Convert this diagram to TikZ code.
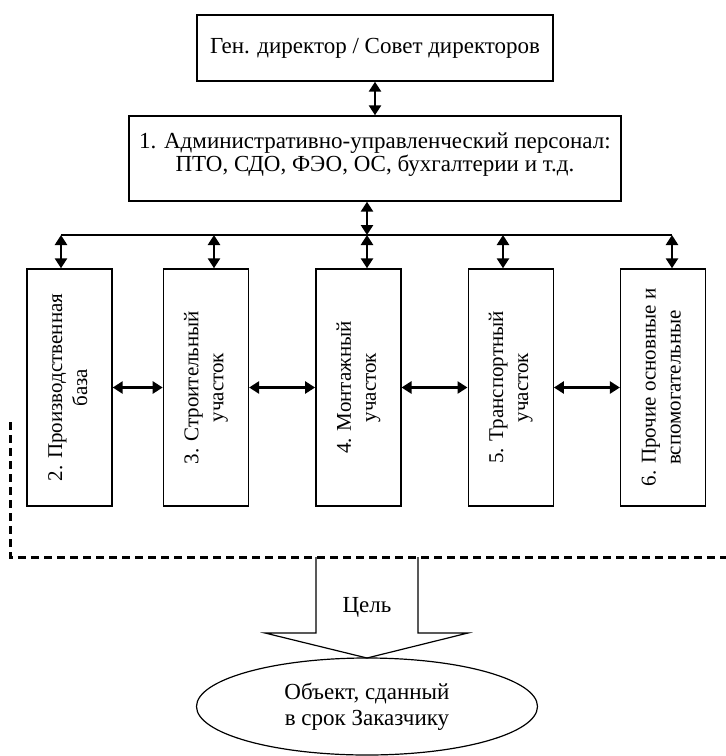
\documentclass[tikz,border=0pt]{standalone}
\usepackage{fontspec}
\setmainfont{Liberation Serif}
\usetikzlibrary{positioning,arrows.meta,shapes.geometric}

\tikzset{
  box/.style={draw, line width=0.7pt, align=center, inner sep=1pt},
  unit/.style={box, minimum width=42.5pt, minimum height=118.5pt},
  link/.style={{Triangle[length=5pt,width=6pt]}-{Triangle[length=5pt,width=6pt]}, line width=1.3pt},
  bus/.style={line width=0.6pt},
  border/.style={line width=1.5pt, dash pattern=on 4pt off 2.5pt},
}
\newcommand{\vtext}[1]{\rotatebox{90}{\fontsize{10.5}{12.5}\selectfont\begin{tabular}{@{}c@{}}#1\end{tabular}}}

\begin{document}
\begin{tikzpicture}[x=0.5pt, y=-0.5pt, font=\fontsize{11.5}{13}\selectfont]
    \useasboundingbox (0,0) rectangle (726,756);
    \node [box, minimum width=178pt, minimum height=33pt] (gen) at (375,48)
      {Ген. директор / Совет директоров};
    \node [box, minimum width=246pt, minimum height=42.5pt] (aup) at (375,158.5)
      {1. Административно-управленческий персонал:\\[-1.5pt] ПТО, СДО, ФЭО, ОС, бухгалтерии и т.д.\\[-11pt] \strut};
    \node [unit] (base) at (69.5,387.5) {\vtext{2. Производственная\\ база}};
    \node [unit, right=25pt of base] (build) {\vtext{3. Строительный\\ участок}};
    \node [unit, right=33pt of build] (mount) {\vtext{4. Монтажный\\ участок}};
    \node [unit, right=33pt of mount] (trans) {\vtext{5. Транспортный\\ участок}};
    \node [unit, right=33pt of trans] (other) {\vtext{6. Прочие основные и\\ вспомогательные}};

    \coordinate (hub) at (367,235);
    \coordinate (busl) at (61,235);
    \coordinate (busr) at (672,235);
    \draw [bus] (busl) -- (busr);
    \draw [link] (gen.south) -- (aup.north);
    \draw [link] (hub |- aup.south) -- (hub);
    \foreach \x/\u in {61/base, 214/build, 367/mount, 503/trans, 672/other}
      \draw [link] (\x,235) -- (\x,235 |- \u.north);
    \draw [link] (base) -- (build);
    \draw [link] (build) -- (mount);
    \draw [link] (mount) -- (trans);
    \draw [link] (trans) -- (other);

    \coordinate (dtop) at (10,422);
    \coordinate (dcorner) at (10,557);
    \coordinate (dend) at (726,557);
    \draw [border] (dtop) -- (dcorner) -- (dend);

    \draw [bus] (316,557) -- (316,633) -- (265,633) -- (367,658) -- (468,633) -- (418,633) -- (418,557);
    \node (goal) at (367,607) {Цель};
    \node [ellipse, draw, bus, align=center, minimum width=170.5pt, minimum height=48.5pt] (object) at (367,706.5)
      {Объект, сданный\\ в срок Заказчику};
  \end{tikzpicture}
\end{document}
